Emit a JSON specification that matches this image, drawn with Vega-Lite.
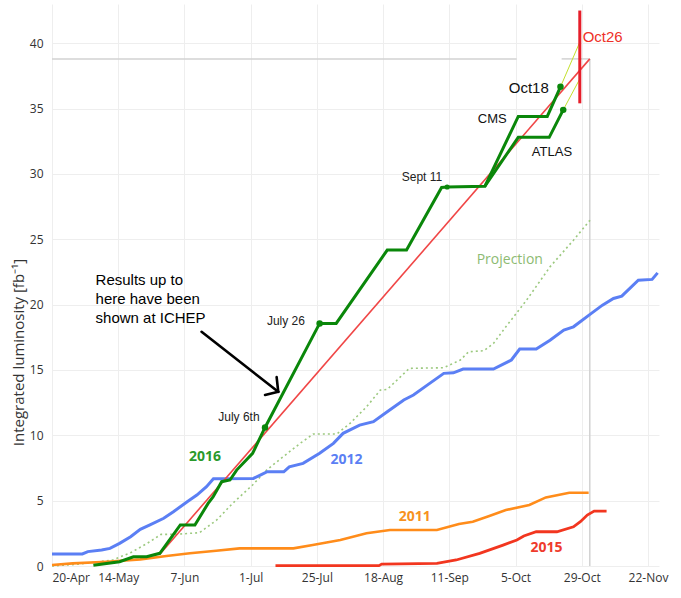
{
  "$schema": "https://vega.github.io/schema/vega-lite/v6.json",
  "width": 607,
  "height": 562,
  "autosize": "none",
  "padding": {"left": 52, "top": 4, "right": 22, "bottom": 32},
  "background": "white",
  "config": {
    "view": {"stroke": null},
    "axis": {"gridColor": "#eeeeee", "gridWidth": 1, "domain": false, "ticks": false, "labelFont": "Open Sans", "labelFontSize": 12, "labelColor": "#333333"}
  },
  "datasets": {
    "lines": [
      {"s": "P", "t": "2016-04-20T00:00Z", "v": 0},
      {"s": "P", "t": "2016-04-30T00:00Z", "v": 0.15},
      {"s": "P", "t": "2016-05-12T00:00Z", "v": 0.46},
      {"s": "P", "t": "2016-05-18T12:00Z", "v": 1.02},
      {"s": "P", "t": "2016-05-24T12:00Z", "v": 1.73},
      {"s": "P", "t": "2016-05-29T12:00Z", "v": 2.42},
      {"s": "P", "t": "2016-06-04T00:00Z", "v": 2.42},
      {"s": "P", "t": "2016-06-09T00:00Z", "v": 2.5},
      {"s": "P", "t": "2016-06-12T12:00Z", "v": 2.55},
      {"s": "P", "t": "2016-06-18T17:00Z", "v": 3.52},
      {"s": "P", "t": "2016-06-24T12:00Z", "v": 4.8},
      {"s": "P", "t": "2016-07-01T17:00Z", "v": 6.2},
      {"s": "P", "t": "2016-07-06T19:00Z", "v": 7.34},
      {"s": "P", "t": "2016-07-12T19:00Z", "v": 8.36},
      {"s": "P", "t": "2016-07-18T22:00Z", "v": 9.38},
      {"s": "P", "t": "2016-07-23T17:00Z", "v": 10.1},
      {"s": "P", "t": "2016-08-01T05:00Z", "v": 10.1},
      {"s": "P", "t": "2016-08-06T00:00Z", "v": 10.91},
      {"s": "P", "t": "2016-08-12T00:00Z", "v": 12.18},
      {"s": "P", "t": "2016-08-17T00:00Z", "v": 13.46},
      {"s": "P", "t": "2016-08-19T12:00Z", "v": 13.51},
      {"s": "P", "t": "2016-08-27T12:00Z", "v": 15.12},
      {"s": "P", "t": "2016-09-09T00:00Z", "v": 15.17},
      {"s": "P", "t": "2016-09-15T00:00Z", "v": 15.76},
      {"s": "P", "t": "2016-09-18T00:00Z", "v": 16.39},
      {"s": "P", "t": "2016-09-23T12:00Z", "v": 16.47},
      {"s": "P", "t": "2016-09-27T00:00Z", "v": 17.03},
      {"s": "P", "t": "2016-10-01T12:00Z", "v": 18.3},
      {"s": "P", "t": "2016-10-09T00:00Z", "v": 20.34},
      {"s": "P", "t": "2016-10-17T12:00Z", "v": 22.89},
      {"s": "P", "t": "2016-10-26T00:00Z", "v": 24.93},
      {"s": "P", "t": "2016-11-01T00:00Z", "v": 26.46},

      {"s": "2011", "t": "2016-04-20T00:00Z", "v": 0.08},
      {"s": "2011", "t": "2016-04-27T12:00Z", "v": 0.2},
      {"s": "2011", "t": "2016-05-10T00:00Z", "v": 0.33},
      {"s": "2011", "t": "2016-05-22T00:00Z", "v": 0.51},
      {"s": "2011", "t": "2016-05-31T12:00Z", "v": 0.76},
      {"s": "2011", "t": "2016-06-09T00:00Z", "v": 0.97},
      {"s": "2011", "t": "2016-06-18T12:00Z", "v": 1.17},
      {"s": "2011", "t": "2016-06-27T00:00Z", "v": 1.35},
      {"s": "2011", "t": "2016-07-16T12:00Z", "v": 1.35},
      {"s": "2011", "t": "2016-07-23T12:00Z", "v": 1.61},
      {"s": "2011", "t": "2016-08-02T12:00Z", "v": 1.99},
      {"s": "2011", "t": "2016-08-12T00:00Z", "v": 2.5},
      {"s": "2011", "t": "2016-08-20T12:00Z", "v": 2.75},
      {"s": "2011", "t": "2016-09-06T12:00Z", "v": 2.75},
      {"s": "2011", "t": "2016-09-14T12:00Z", "v": 3.21},
      {"s": "2011", "t": "2016-09-19T12:00Z", "v": 3.39},
      {"s": "2011", "t": "2016-09-25T12:00Z", "v": 3.82},
      {"s": "2011", "t": "2016-10-01T12:00Z", "v": 4.28},
      {"s": "2011", "t": "2016-10-10T00:00Z", "v": 4.67},
      {"s": "2011", "t": "2016-10-16T00:00Z", "v": 5.25},
      {"s": "2011", "t": "2016-10-24T12:00Z", "v": 5.61},
      {"s": "2011", "t": "2016-10-31T12:00Z", "v": 5.61},

      {"s": "2015", "t": "2016-07-10T00:00Z", "v": 0.03},
      {"s": "2015", "t": "2016-08-16T12:00Z", "v": 0.03},
      {"s": "2015", "t": "2016-08-17T12:00Z", "v": 0.15},
      {"s": "2015", "t": "2016-09-06T12:00Z", "v": 0.2},
      {"s": "2015", "t": "2016-09-13T12:00Z", "v": 0.46},
      {"s": "2015", "t": "2016-09-22T00:00Z", "v": 0.97},
      {"s": "2015", "t": "2016-09-30T12:00Z", "v": 1.6},
      {"s": "2015", "t": "2016-10-05T12:00Z", "v": 1.99},
      {"s": "2015", "t": "2016-10-08T00:00Z", "v": 2.3},
      {"s": "2015", "t": "2016-10-12T12:00Z", "v": 2.62},
      {"s": "2015", "t": "2016-10-20T00:00Z", "v": 2.62},
      {"s": "2015", "t": "2016-10-26T00:00Z", "v": 3.0},
      {"s": "2015", "t": "2016-10-28T12:00Z", "v": 3.39},
      {"s": "2015", "t": "2016-10-31T00:00Z", "v": 3.9},
      {"s": "2015", "t": "2016-11-02T12:00Z", "v": 4.2},
      {"s": "2015", "t": "2016-11-07T00:00Z", "v": 4.2},

      {"s": "2012", "t": "2016-04-20T00:00Z", "v": 0.92},
      {"s": "2012", "t": "2016-05-01T00:00Z", "v": 0.92},
      {"s": "2012", "t": "2016-05-03T00:00Z", "v": 1.1},
      {"s": "2012", "t": "2016-05-08T00:00Z", "v": 1.22},
      {"s": "2012", "t": "2016-05-11T00:00Z", "v": 1.35},
      {"s": "2012", "t": "2016-05-14T12:00Z", "v": 1.73},
      {"s": "2012", "t": "2016-05-18T12:00Z", "v": 2.24},
      {"s": "2012", "t": "2016-05-22T00:00Z", "v": 2.8},
      {"s": "2012", "t": "2016-05-25T12:00Z", "v": 3.14},
      {"s": "2012", "t": "2016-05-30T12:00Z", "v": 3.65},
      {"s": "2012", "t": "2016-06-03T00:00Z", "v": 4.15},
      {"s": "2012", "t": "2016-06-08T00:00Z", "v": 4.92},
      {"s": "2012", "t": "2016-06-11T12:00Z", "v": 5.43},
      {"s": "2012", "t": "2016-06-15T00:00Z", "v": 6.07},
      {"s": "2012", "t": "2016-06-17T12:00Z", "v": 6.67},
      {"s": "2012", "t": "2016-07-02T00:00Z", "v": 6.7},
      {"s": "2012", "t": "2016-07-04T12:00Z", "v": 6.96},
      {"s": "2012", "t": "2016-07-07T00:00Z", "v": 7.21},
      {"s": "2012", "t": "2016-07-13T00:00Z", "v": 7.21},
      {"s": "2012", "t": "2016-07-15T00:00Z", "v": 7.59},
      {"s": "2012", "t": "2016-07-20T00:00Z", "v": 7.85},
      {"s": "2012", "t": "2016-07-26T00:00Z", "v": 8.62},
      {"s": "2012", "t": "2016-07-31T00:00Z", "v": 9.38},
      {"s": "2012", "t": "2016-08-03T12:00Z", "v": 10.15},
      {"s": "2012", "t": "2016-08-09T12:00Z", "v": 10.78},
      {"s": "2012", "t": "2016-08-14T12:00Z", "v": 11.04},
      {"s": "2012", "t": "2016-08-19T12:00Z", "v": 11.8},
      {"s": "2012", "t": "2016-08-25T12:00Z", "v": 12.7},
      {"s": "2012", "t": "2016-08-29T00:00Z", "v": 13.08},
      {"s": "2012", "t": "2016-09-03T00:00Z", "v": 13.84},
      {"s": "2012", "t": "2016-09-09T00:00Z", "v": 14.74},
      {"s": "2012", "t": "2016-09-12T12:00Z", "v": 14.78},
      {"s": "2012", "t": "2016-09-16T00:00Z", "v": 15.07},
      {"s": "2012", "t": "2016-09-27T00:00Z", "v": 15.07},
      {"s": "2012", "t": "2016-10-03T12:00Z", "v": 15.76},
      {"s": "2012", "t": "2016-10-06T12:00Z", "v": 16.6},
      {"s": "2012", "t": "2016-10-12T12:00Z", "v": 16.6},
      {"s": "2012", "t": "2016-10-17T12:00Z", "v": 17.28},
      {"s": "2012", "t": "2016-10-22T12:00Z", "v": 18.05},
      {"s": "2012", "t": "2016-10-26T00:00Z", "v": 18.3},
      {"s": "2012", "t": "2016-11-01T00:00Z", "v": 19.25},
      {"s": "2012", "t": "2016-11-05T12:00Z", "v": 19.96},
      {"s": "2012", "t": "2016-11-09T12:00Z", "v": 20.47},
      {"s": "2012", "t": "2016-11-12T12:00Z", "v": 20.65},
      {"s": "2012", "t": "2016-11-18T12:00Z", "v": 21.87},
      {"s": "2012", "t": "2016-11-23T12:00Z", "v": 21.93},
      {"s": "2012", "t": "2016-11-25T12:00Z", "v": 22.43},

      {"s": "target", "t": "2016-05-29T02:00Z", "v": 0.9},
      {"s": "target", "t": "2016-10-31T22:00Z", "v": 38.8},

      {"s": "CMS", "t": "2016-05-05T00:00Z", "v": 0.05},
      {"s": "CMS", "t": "2016-05-14T12:00Z", "v": 0.33},
      {"s": "CMS", "t": "2016-05-19T12:00Z", "v": 0.71},
      {"s": "CMS", "t": "2016-05-24T07:00Z", "v": 0.71},
      {"s": "CMS", "t": "2016-05-29T02:00Z", "v": 0.97},
      {"s": "CMS", "t": "2016-06-05T12:00Z", "v": 3.14},
      {"s": "CMS", "t": "2016-06-10T19:00Z", "v": 3.14},
      {"s": "CMS", "t": "2016-06-15T14:00Z", "v": 4.79},
      {"s": "CMS", "t": "2016-06-17T10:00Z", "v": 5.3},
      {"s": "CMS", "t": "2016-06-20T12:00Z", "v": 6.45},
      {"s": "CMS", "t": "2016-06-23T12:00Z", "v": 6.58},
      {"s": "CMS", "t": "2016-06-25T22:00Z", "v": 7.34},
      {"s": "CMS", "t": "2016-07-01T17:00Z", "v": 8.62},
      {"s": "CMS", "t": "2016-07-06T05:00Z", "v": 10.6},
      {"s": "CMS", "t": "2016-07-26T00:00Z", "v": 18.56},
      {"s": "CMS", "t": "2016-08-01T00:00Z", "v": 18.56},
      {"s": "CMS", "t": "2016-08-19T12:00Z", "v": 24.17},
      {"s": "CMS", "t": "2016-08-26T12:00Z", "v": 24.17},
      {"s": "CMS", "t": "2016-09-08T05:00Z", "v": 28.96},
      {"s": "CMS", "t": "2016-09-10T05:00Z", "v": 29.0},
      {"s": "CMS", "t": "2016-09-23T22:00Z", "v": 29.06},
      {"s": "CMS", "t": "2016-10-06T00:00Z", "v": 34.4},
      {"s": "CMS", "t": "2016-10-16T12:00Z", "v": 34.4},
      {"s": "CMS", "t": "2016-10-21T07:00Z", "v": 36.66},

      {"s": "ATLAS", "t": "2016-09-23T22:00Z", "v": 29.06},
      {"s": "ATLAS", "t": "2016-10-06T00:00Z", "v": 32.8},
      {"s": "ATLAS", "t": "2016-10-17T05:00Z", "v": 32.8},
      {"s": "ATLAS", "t": "2016-10-22T07:00Z", "v": 34.9},

      {"s": "CMSx", "t": "2016-10-21T07:00Z", "v": 36.66},
      {"s": "CMSx", "t": "2016-10-28T03:00Z", "v": 40.0},
      {"s": "ATLASx", "t": "2016-10-22T07:00Z", "v": 34.9},
      {"s": "ATLASx", "t": "2016-10-28T03:00Z", "v": 37.2}
    ],
    "rules": [
      {"k": "box", "t": "2016-04-20T00:00Z", "t2": "2016-10-05T10:00Z", "v": 38.8, "v2": 38.8},
      {"k": "box", "t": "2016-10-21T17:00Z", "t2": "2016-10-31T22:00Z", "v": 38.8, "v2": 38.8},
      {"k": "box", "t": "2016-10-31T22:00Z", "t2": "2016-10-31T22:00Z", "v": 0, "v2": 38.8},
      {"k": "oct26", "t": "2016-10-28T07:00Z", "t2": "2016-10-28T07:00Z", "v": 35.4, "v2": 42.5},
      {"k": "arrow", "t": "2016-06-13T05:00Z", "t2": "2016-07-11T00:00Z", "v": 17.92, "v2": 13.33},
      {"k": "arrow", "t": "2016-07-06T05:00Z", "t2": "2016-07-11T00:00Z", "v": 13.08, "v2": 13.33},
      {"k": "arrow", "t": "2016-07-10T10:00Z", "t2": "2016-07-11T00:00Z", "v": 14.45, "v2": 13.33}
    ],
    "dots": [
      {"k": "big", "t": "2016-07-06T05:00Z", "v": 10.6},
      {"k": "big", "t": "2016-07-26T00:00Z", "v": 18.56},
      {"k": "small", "t": "2016-09-10T05:00Z", "v": 29.0},
      {"k": "big", "t": "2016-10-21T07:00Z", "v": 36.66},
      {"k": "big", "t": "2016-10-22T07:00Z", "v": 34.9}
    ],
    "texts": [
      {"g": "year", "label": "2016", "t": "2016-06-14T10:00Z", "v": 8.34},
      {"g": "year", "label": "2012", "t": "2016-08-04T17:00Z", "v": 8.1},
      {"g": "year", "label": "2011", "t": "2016-08-29T12:00Z", "v": 3.75},
      {"g": "year", "label": "2015", "t": "2016-10-16T05:00Z", "v": 1.38},
      {"g": "proj", "label": "Projection", "t": "2016-10-02T22:00Z", "v": 23.4},
      {"g": "date", "label": "July 6th", "t": "2016-06-26T18:00Z", "v": 11.4},
      {"g": "date", "label": "July 26", "t": "2016-07-13T19:00Z", "v": 18.74},
      {"g": "date", "label": "Sept 11", "t": "2016-09-01T02:00Z", "v": 29.75},
      {"g": "big", "label": "Oct18", "t": "2016-10-09T19:00Z", "v": 36.56},
      {"g": "exp", "label": "CMS", "t": "2016-09-26T14:00Z", "v": 34.2},
      {"g": "exp", "label": "ATLAS", "t": "2016-10-18T05:00Z", "v": 31.66},
      {"g": "red", "label": "Oct26", "t": "2016-11-05T14:00Z", "v": 40.5},
      {"g": "note", "label": "Results up to\nhere have been\nshown at ICHEP", "t": "2016-05-05T19:00Z", "v": 21.87}
    ]
  },
  "encoding": {
    "x": {
      "field": "t", "type": "temporal",
      "scale": {"type": "utc", "domain": [{"year": 2016, "month": 4, "date": 20, "utc": true}, {"year": 2016, "month": 11, "date": 26, "utc": true}]},
      "axis": {
        "title": null, "format": "%-d-%b", "labelPadding": 6, "grid": true,
        "values": [
          {"year": 2016, "month": 4, "date": 20, "utc": true},
          {"year": 2016, "month": 5, "date": 14, "utc": true},
          {"year": 2016, "month": 6, "date": 7, "utc": true},
          {"year": 2016, "month": 7, "date": 1, "utc": true},
          {"year": 2016, "month": 7, "date": 25, "utc": true},
          {"year": 2016, "month": 8, "date": 18, "utc": true},
          {"year": 2016, "month": 9, "date": 11, "utc": true},
          {"year": 2016, "month": 10, "date": 5, "utc": true},
          {"year": 2016, "month": 10, "date": 29, "utc": true},
          {"year": 2016, "month": 11, "date": 22, "utc": true}
        ]
      }
    },
    "y": {
      "field": "v", "type": "quantitative",
      "scale": {"domain": [0, 43], "nice": false, "zero": true},
      "axis": {
        "values": [0, 5, 10, 15, 20, 25, 30, 35, 40], "grid": true, "labelPadding": 9,
        "title": "Integrated luminosity [fb⁻¹]", "titleFont": "Open Sans", "titleFontSize": 15, "titleFontWeight": "normal", "titleColor": "#333333",
        "titleX": -34, "titleY": 348, "titleAlign": "center", "titleBaseline": "middle", "titleAngle": -90
      }
    }
  },
  "layer": [
    {
      "data": {"name": "rules"},
      "transform": [{"filter": "datum.k === 'box'"}],
      "mark": {"type": "rule", "color": "#d2d2d2", "strokeWidth": 1.5},
      "encoding": {"x2": {"field": "t2"}, "y2": {"field": "v2"}}
    },
    {
      "data": {"name": "lines"},
      "transform": [{"filter": "datum.s === 'P'"}],
      "mark": {"type": "line", "color": "#9cc97f", "strokeWidth": 1.6, "strokeDash": [2, 3]}
    },
    {
      "data": {"name": "lines"},
      "transform": [{"filter": "datum.s === '2011'"}],
      "mark": {"type": "line", "color": "#ff8c1a", "strokeWidth": 2.6}
    },
    {
      "data": {"name": "lines"},
      "transform": [{"filter": "datum.s === '2015'"}],
      "mark": {"type": "line", "color": "#f2361f", "strokeWidth": 2.8}
    },
    {
      "data": {"name": "lines"},
      "transform": [{"filter": "datum.s === '2012'"}],
      "mark": {"type": "line", "color": "#5b7ff4", "strokeWidth": 3}
    },
    {
      "data": {"name": "lines"},
      "transform": [{"filter": "datum.s === 'target'"}],
      "mark": {"type": "line", "color": "#f04646", "strokeWidth": 1.6}
    },
    {
      "data": {"name": "lines"},
      "transform": [{"filter": "datum.s === 'CMS' || datum.s === 'ATLAS'"}],
      "mark": {"type": "line", "color": "#0a870a", "strokeWidth": 3},
      "encoding": {"detail": {"field": "s"}}
    },
    {
      "data": {"name": "lines"},
      "transform": [{"filter": "datum.s === 'CMSx' || datum.s === 'ATLASx'"}],
      "mark": {"type": "line", "color": "#c3e02c", "strokeWidth": 1},
      "encoding": {"detail": {"field": "s"}}
    },
    {
      "data": {"name": "rules"},
      "transform": [{"filter": "datum.k === 'oct26'"}],
      "mark": {"type": "rule", "color": "#e61e2a", "strokeWidth": 3},
      "encoding": {"x2": {"field": "t2"}, "y2": {"field": "v2"}}
    },
    {
      "data": {"name": "rules"},
      "transform": [{"filter": "datum.k === 'arrow'"}],
      "mark": {"type": "rule", "color": "#000000", "strokeWidth": 2.6, "strokeCap": "round"},
      "encoding": {"x2": {"field": "t2"}, "y2": {"field": "v2"}}
    },
    {
      "data": {"name": "dots"},
      "mark": {"type": "circle", "color": "#0a870a", "opacity": 1},
      "encoding": {"size": {"field": "k", "type": "nominal", "scale": {"domain": ["big", "small"], "range": [42, 26]}, "legend": null}}
    },
    {
      "data": {"name": "texts"},
      "transform": [{"filter": "datum.g === 'year'"}],
      "mark": {"type": "text", "font": "Open Sans", "fontSize": 14, "fontWeight": "bold", "align": "center", "baseline": "middle"},
      "encoding": {
        "text": {"field": "label"},
        "color": {"field": "label", "type": "nominal", "scale": {"domain": ["2016", "2012", "2011", "2015"], "range": ["#2b9a2b", "#5b7ff4", "#f7921e", "#ef3b2c"]}, "legend": null}
      }
    },
    {
      "data": {"name": "texts"},
      "transform": [{"filter": "datum.g === 'proj'"}],
      "mark": {"type": "text", "font": "Open Sans", "fontSize": 14, "color": "#8dbb72", "align": "center", "baseline": "middle"},
      "encoding": {"text": {"field": "label"}}
    },
    {
      "data": {"name": "texts"},
      "transform": [{"filter": "datum.g === 'date'"}],
      "mark": {"type": "text", "font": "Liberation Sans", "fontSize": 12, "color": "#222222", "align": "center", "baseline": "middle"},
      "encoding": {"text": {"field": "label"}}
    },
    {
      "data": {"name": "texts"},
      "transform": [{"filter": "datum.g === 'big'"}],
      "mark": {"type": "text", "font": "Liberation Sans", "fontSize": 15, "color": "#111111", "align": "center", "baseline": "middle"},
      "encoding": {"text": {"field": "label"}}
    },
    {
      "data": {"name": "texts"},
      "transform": [{"filter": "datum.g === 'exp'"}],
      "mark": {"type": "text", "font": "Liberation Sans", "fontSize": 13, "color": "#111111", "align": "center", "baseline": "middle"},
      "encoding": {"text": {"field": "label"}}
    },
    {
      "data": {"name": "texts"},
      "transform": [{"filter": "datum.g === 'red'"}],
      "mark": {"type": "text", "font": "Liberation Sans", "fontSize": 15, "color": "#ee3028", "align": "center", "baseline": "middle"},
      "encoding": {"text": {"field": "label"}}
    },
    {
      "data": {"name": "texts"},
      "transform": [{"filter": "datum.g === 'note'"}],
      "mark": {"type": "text", "font": "Liberation Sans", "fontSize": 15, "color": "#000000", "align": "left", "baseline": "middle", "lineBreak": "\n", "lineHeight": 19},
      "encoding": {"text": {"field": "label"}}
    }
  ]
}
